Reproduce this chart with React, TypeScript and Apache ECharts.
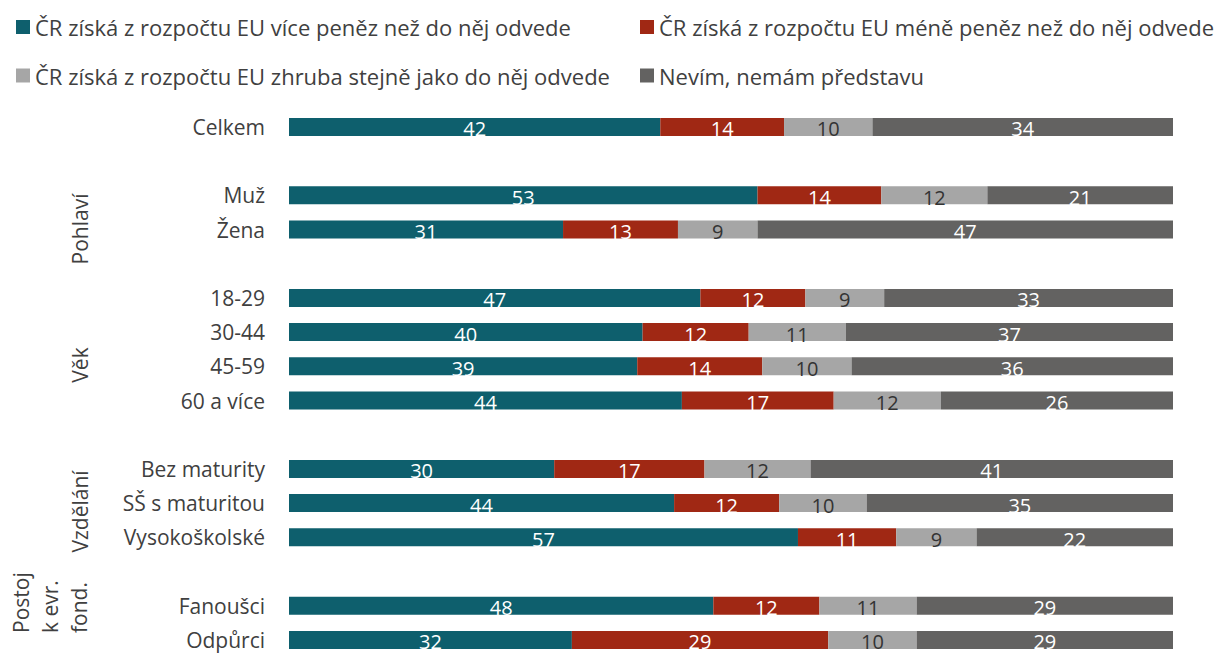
import React, { useEffect, useRef } from "react";
import * as echarts from "echarts";

// Categories (blank entries are gaps between groups)
const categories = [
  "Celkem", " ",
  "Muž", "Žena", "  ",
  "18-29", "30-44", "45-59", "60 a více", "   ",
  "Bez maturity", "SŠ s maturitou", "Vysokoškolské", "    ",
  "Fanoušci", "Odpůrci",
];

const seriesNames = [
  "ČR získá z rozpočtu EU více peněz než do něj odvede",
  "ČR získá z rozpočtu EU méně peněz než do něj odvede",
  "ČR získá z rozpočtu EU zhruba stejně jako do něj odvede",
  "Nevím, nemám představu",
];

const moreMoney = [42, null, 53, 31, null, 47, 40, 39, 44, null, 30, 44, 57, null, 48, 32];
const lessMoney = [14, null, 14, 13, null, 12, 12, 14, 17, null, 17, 12, 11, null, 12, 29];
const aboutSame = [10, null, 12, 9, null, 9, 11, 10, 12, null, 12, 10, 9, null, 11, 10];
const dontKnow = [34, null, 21, 47, null, 33, 37, 36, 26, null, 41, 35, 22, null, 29, 29];

const groupLabels = ["Pohlaví", "Věk", "Vzdělání", "Postoj\nk evr.\nfond."];

// layout of the rotated group labels (pixel positions)
const groupLayout = [
  { x: 80, y: 229, align: "center" },
  { x: 80, y: 365, align: "center" },
  { x: 80, y: 511.5, align: "center" },
  { x: 50, y: 633, align: "left" },
];

const colors = ["#0E5F6D", "#A02814", "#A6A6A6", "#636261"];
const labelColors = ["#FFFFFF", "#FFFFFF", "#333333", "#FFFFFF"];
const FONT = "'Open Sans', 'Noto Sans', sans-serif";

export default function App() {
  const ref = useRef<HTMLDivElement>(null);
  useEffect(() => {
    if (!ref.current) return;
    const chart = echarts.init(ref.current, null, { renderer: "svg" });
    const all = [moreMoney, lessMoney, aboutSame, dontKnow];
    const totals = categories.map((_, i) =>
      all.reduce((s, arr) => s + (arr[i] ?? 0), 0)
    );
    const series = all.map((arr, k) => ({
      name: seriesNames[k],
      type: "bar",
      stack: "total",
      barWidth: 18,
      itemStyle: { color: colors[k] },
      label: {
        show: true,
        position: "inside",
        color: labelColors[k],
        fontFamily: FONT,
        fontSize: 20,
        offset: [0, 2],
        formatter: (p: any) => (p.data && p.data.raw != null ? String(p.data.raw) : ""),
      },
      data: arr.map((v, i) =>
        v == null ? { value: null, raw: null } : { value: (v / totals[i]) * 100, raw: v }
      ),
    }));

    const legendCommon = {
      orient: "vertical",
      icon: "rect",
      itemWidth: 14,
      itemHeight: 14,
      itemGap: 24.5,
      padding: 0,
      selectedMode: false,
      textStyle: { fontFamily: FONT, fontSize: 22, color: "#404040", lineHeight: 24 },
    };

    chart.setOption({
      animation: false,
      color: colors,
      legend: [
        { ...legendCommon, left: 16, top: 15, data: [seriesNames[0], seriesNames[2]] },
        { ...legendCommon, left: 640, top: 15, data: [seriesNames[1], seriesNames[3]] },
      ],
      grid: { left: 289, right: 50, top: 109.8, height: 551.5, containLabel: false },
      xAxis: {
        type: "value",
        min: 0,
        max: 100,
        show: false,
      },
      yAxis: {
        type: "category",
        inverse: true,
        data: categories,
        axisLine: { show: false },
        axisTick: { show: false },
        axisLabel: {
          margin: 24,
          color: "#404040",
          fontFamily: FONT,
          fontSize: 21,
          interval: 0,
        },
      },
      graphic: groupLabels.map((label, i) => ({
        type: "text",
        x: groupLayout[i].x,
        y: groupLayout[i].y,
        rotation: Math.PI / 2,
        style: {
          text: label,
          fill: "#404040",
          fontFamily: FONT,
          fontSize: 21,
          lineHeight: 29,
          textAlign: groupLayout[i].align,
          textVerticalAlign: "middle",
        },
      })),
      series,
    });

    return () => chart.dispose();
  }, []);
  return <div ref={ref} style={{ width: 1223, height: 657, position: "absolute", left: 0, top: 0 }} />;
}
